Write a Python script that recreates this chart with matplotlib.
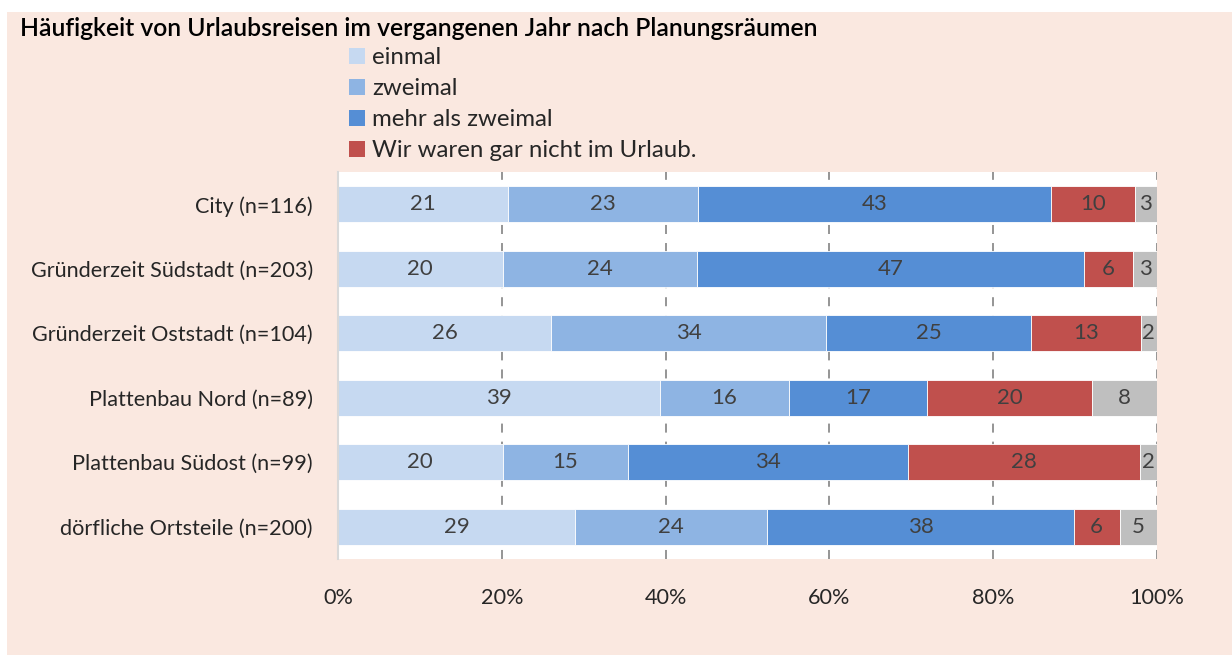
import matplotlib
matplotlib.use('Agg')
import numpy as np
import matplotlib.pyplot as plt
from matplotlib.patches import Rectangle, Patch

# Daten (Anteile in %)
categories = ['City (n=116)', 'Gründerzeit Südstadt (n=203)', 'Gründerzeit Oststadt (n=104)',
              'Plattenbau Nord (n=89)', 'Plattenbau Südost (n=99)', 'dörfliche Ortsteile (n=200)']
series_names = ['einmal', 'zweimal', 'mehr als zweimal', 'Wir waren gar nicht im Urlaub.', 'keine Angabe']
einmal = [20.8, 20.1, 26.0, 39.3, 20.1, 29.1]
zweimal = [23.2, 23.7, 33.6, 15.8, 15.3, 23.6]
mehr = [43.1, 47.3, 25.0, 16.8, 34.2, 37.6]
nicht = [10.2, 6.0, 13.4, 20.2, 28.3, 5.6]
keine = [2.7, 2.9, 2.0, 7.9, 2.1, 4.6]
xticks = [0, 20, 40, 60, 80, 100]
xtick_labels = ['0%', '20%', '40%', '60%', '80%', '100%']

colors = ['#C6D9F1', '#8EB4E3', '#558ED5', '#C0504D', '#BFBFBF']
bg = '#FAE8E0'

plt.rcParams['font.family'] = ['Lato', 'DejaVu Sans']

series = [einmal, zweimal, mehr, nicht, keine]
data = np.array(series)
data = data / data.sum(axis=0) * 100

fig = plt.figure(figsize=(12.32, 6.55), dpi=100, facecolor='white')
fig.patches.append(Rectangle((7 / 1232, 0), 1, 1 - 12 / 655, transform=fig.transFigure,
                             facecolor=bg, edgecolor='none', zorder=-10))

ax = fig.add_axes([338 / 1232, 1 - 559 / 655, (1157 - 338) / 1232, (559 - 172) / 655])
ax.set_facecolor('white')

y = np.arange(len(categories))
left = np.zeros(len(categories))
for i in range(len(series_names)):
    ax.barh(y, data[i], left=left, height=0.56, color=colors[i],
            edgecolor='white', linewidth=0.6, zorder=2)
    for j in range(len(categories)):
        ax.text(left[j] + data[i][j] / 2, y[j], '%.0f' % series[i][j],
                ha='center', va='center', fontsize=16, color='#404040', zorder=3)
    left += data[i]

ax.set_xlim(0, 100)
ax.set_ylim(len(categories) - 0.5, -0.5)
ax.set_yticks(y)
ax.set_yticklabels(categories, fontsize=15.6, color='#262626')
ax.set_xticks(xticks)
ax.set_xticklabels(xtick_labels, fontsize=15.6, color='#262626')
ax.tick_params(axis='y', length=0, pad=18)
ax.tick_params(axis='x', length=0, pad=21)
for s in ['top', 'right', 'bottom']:
    ax.spines[s].set_visible(False)
ax.spines['left'].set_color('#D9D9D9')
ax.spines['left'].set_linewidth(1.5)
for xv in xticks[1:]:
    ax.axvline(xv, color='#8C8C8C', linestyle=(0, (5, 5)), linewidth=1.3, zorder=1)

fig.text(20 / 1232, 1 - 28 / 655, 'Häufigkeit von Urlaubsreisen im vergangenen Jahr nach Planungsräumen',
         fontsize=17.8, fontweight='semibold', color='black', va='center', ha='left')

handles = [Patch(facecolor=colors[i], edgecolor='none') for i in range(4)]
fig.legend(handles, series_names[:4], loc='upper left', bbox_to_anchor=(349 / 1232, 1 - 47 / 655),
           frameon=False, handlelength=0.65, handleheight=0.65,
           handletextpad=0.3, labelspacing=0.42, borderaxespad=0, borderpad=0,
           prop={'size': 17.3}, labelcolor='#262626')

fig.savefig('out.png', dpi=100, facecolor=fig.get_facecolor())
